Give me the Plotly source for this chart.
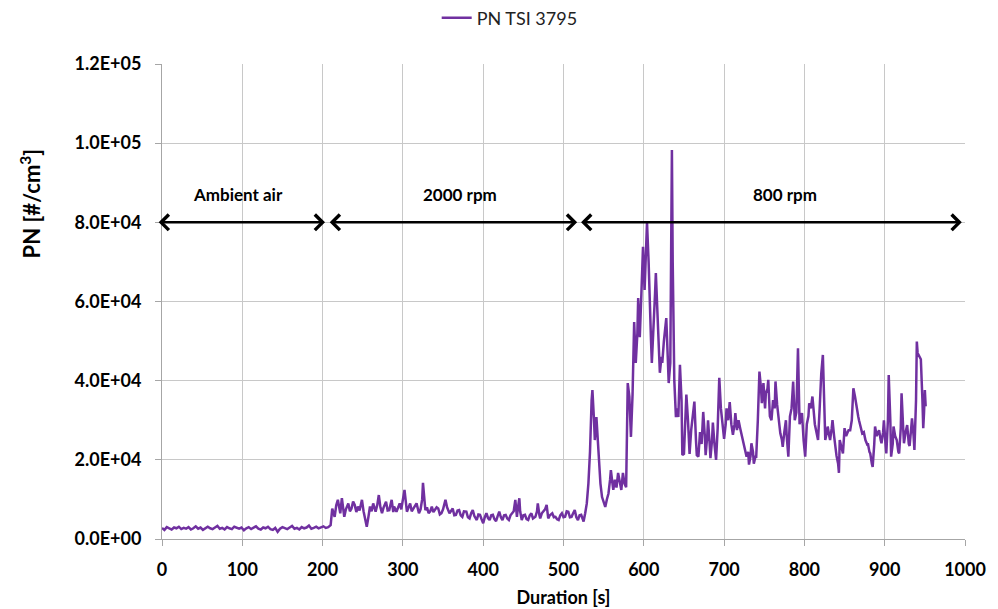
import plotly.graph_objects as go

# ---- data ----
t_ambient = list(range(0, 210, 3))
pn_ambient = [2800, 2300, 3000, 2600, 2400, 2900, 2700, 3100, 2500, 2800,
              2600, 3000, 2400, 2700, 3200, 2600, 2900, 2300, 2800, 3100,
              2700, 2500, 2900, 3300, 2600, 2800, 2400, 3000, 2700, 2500,
              3100, 2800, 2600, 2900, 2200, 2700, 3000, 2500, 2800, 3200,
              2600, 2400, 2900, 2700, 3100, 2500, 2300, 2800, 1800, 2600,
              3000, 2700, 2500, 2900, 3300, 2600, 2800, 2400, 3000, 2700,
              2900, 3400, 2600, 2800, 3100, 2700, 2900, 3200, 2800, 3000]

t_engine = [210, 212, 215, 217, 219, 222, 224, 227, 229, 232, 234, 236, 238, 240, 242, 244, 246, 249, 251, 253,
            255, 257, 259, 261, 263, 266, 268, 270, 272, 274, 276, 279, 281, 283, 286, 288, 289, 292, 294, 296,
            298, 300, 302, 305, 307, 309, 311, 313, 315, 317, 320, 322, 324, 325, 327, 328, 330, 332, 334, 336,
            338, 340, 342, 344, 346, 348, 350, 353, 355, 358, 360, 362, 364, 366, 368, 370, 372, 374, 376, 379,
            381, 383, 385, 387, 389, 392, 394, 396, 398, 400, 402, 404, 406, 408, 410, 412, 414, 416, 418, 420,
            422, 424, 426, 428, 430, 432, 434, 436, 438, 440, 441, 442, 443, 445, 446, 448, 450, 452, 454, 456,
            458, 460, 462, 465, 467, 468, 470, 471, 473, 475, 477, 479, 481, 483, 486, 488, 490, 492, 494, 496,
            498, 500, 502, 504, 506, 508, 510, 512, 514, 516, 518, 520, 522, 524, 525, 527, 529, 531, 533, 535,
            536, 538, 539, 541, 542, 544, 546, 548, 550, 552, 554, 556, 558, 559, 561, 562, 564, 566, 568, 570,
            572, 574, 576, 578, 579, 580, 582, 584, 586, 588, 590, 592, 593, 595, 597, 599, 601, 603, 604, 606,
            607, 609, 610, 612, 614, 615, 617, 618, 620, 622, 623, 625, 628, 630, 631, 633, 634, 635, 636, 637,
            638, 640, 642, 643, 645, 647, 648, 650, 651, 653, 655, 657, 659, 662, 663, 665, 666, 668, 670, 672,
            674, 676, 677, 679, 680, 682, 683, 685, 686, 688, 690, 692, 694, 696, 697, 699, 700, 702, 703, 705,
            707, 709, 711, 713, 714, 716, 718, 720, 722, 724, 726, 728, 730, 731, 733, 734, 736, 737, 739, 740,
            742, 744, 746, 747, 749, 751, 752, 754, 755, 757, 759, 761, 763, 764, 766, 767, 769, 770, 772, 773,
            775, 777, 778, 780, 782, 784, 786, 788, 790, 792, 794, 796, 797, 799, 801, 803, 805, 806, 808, 810,
            812, 813, 815, 817, 819, 821, 823, 825, 826, 828, 829, 831, 832, 834, 835, 837, 838, 840, 842, 843,
            844, 846, 848, 850, 852, 855, 857, 859, 861, 863, 865, 867, 868, 870, 872, 874, 876, 878, 879, 881,
            882, 884, 885, 887, 888, 890, 892, 893, 895, 896, 898, 899, 901, 902, 904, 905, 907, 908, 910, 911,
            913, 915, 917, 918, 920, 921, 923, 924, 926, 928, 930, 931, 933, 934, 936, 937, 939, 940, 941, 943,
            945, 947, 948, 949, 950, 951]
pn_engine = [3500, 7700, 5600, 8500, 9900, 6500, 10300, 5600, 7500, 9000, 7000, 7700, 9500, 8600, 6800, 8200, 7200, 9900, 7000, 4800,
             3100, 5500, 8200, 7000, 9000, 6900, 8500, 11100, 8000, 6500, 8000, 9400, 7200, 7300, 9900, 6800, 8200, 6900, 8000, 9000,
             7500, 9900, 12400, 6900, 8000, 9000, 7000, 7700, 8500, 9000, 6500, 7500, 10000, 14200, 9500, 7300, 8000, 6500, 7000, 8200,
             6800, 7300, 8000, 7700, 6200, 6500, 7500, 9900, 8000, 6500, 7000, 7700, 6000, 6100, 7200, 7300, 6000, 5600, 7000, 6900,
             5500, 5200, 6500, 7300, 5800, 4800, 6200, 6100, 5000, 4000, 5500, 6500, 5300, 4800, 6000, 6100, 5000, 4500, 5800, 6900,
             5500, 4800, 6000, 6100, 5200, 4800, 6000, 6500, 7000, 9900, 7500, 5600, 7500, 10300, 7000, 4800, 6000, 6100, 5000, 4800,
             6000, 6500, 5200, 5600, 7000, 9000, 6000, 5200, 6500, 6900, 7500, 8600, 5200, 6000, 6500, 5500, 5600, 5000, 4800, 6000,
             6500, 5500, 5600, 7000, 6900, 5500, 5600, 6500, 7300, 5500, 4800, 6000, 6100, 5000, 4400, 6500, 9000, 14000, 22000, 35000,
             37600, 30000, 25000, 30800, 27000, 19200, 14000, 10600, 9500, 8100, 10000, 11500, 15000, 17400, 14000, 12400, 15000, 13000, 16700, 14500,
             12400, 16700, 14000, 13100, 30000, 39400, 36000, 25800, 36500, 54800, 44500, 52000, 60900, 51000, 62000, 73800, 62900, 72000, 80000, 70000,
             61000, 50000, 44500, 52000, 62000, 67200, 58000, 52800, 42000, 46000, 44500, 50000, 55800, 45000, 39400, 44500, 70000, 98300, 70000, 44500,
             40000, 30800, 33000, 30800, 44000, 35000, 21200, 21500, 28000, 36500, 30000, 21500, 27500, 34300, 34700, 24800, 21200, 20800, 27000, 24000,
             32100, 26000, 21200, 26000, 30000, 24000, 20400, 25000, 29400, 24000, 20000, 28000, 40700, 33000, 31000, 27000, 25300, 29000, 33000, 30000,
             34600, 29000, 26300, 29000, 31800, 27500, 30000, 28000, 26000, 24200, 22000, 20800, 22000, 18800, 21000, 24200, 22000, 19000, 20800, 20800,
             30000, 42300, 38000, 34300, 39400, 33000, 36800, 38000, 40200, 31000, 30000, 35100, 33000, 39800, 34000, 31800, 28000, 26700, 25000, 23300,
             27000, 30000, 26000, 20800, 31000, 33000, 39800, 30000, 32000, 48200, 29000, 31000, 31800, 25000, 20800, 29000, 31000, 34300, 33000, 36000,
             32000, 29000, 27000, 25000, 33000, 41800, 46500, 30000, 25000, 27000, 28400, 26000, 25000, 28000, 30000, 26000, 24200, 21000, 19000, 16700,
             25000, 23000, 21600, 28000, 26000, 27500, 27500, 30000, 38100, 36000, 32900, 31000, 30000, 28000, 26700, 27000, 25000, 24000, 24200, 22000,
             21600, 19000, 18200, 24000, 28400, 26000, 27000, 27500, 25000, 24200, 27000, 30000, 24000, 21600, 30000, 41400, 30000, 20800, 24000, 28400,
             26000, 25000, 22000, 21600, 28000, 36800, 28000, 24200, 27000, 28800, 24000, 23500, 28000, 30500, 26000, 22500, 35000, 49900, 47000, 46100,
             45400, 35000, 28000, 32000, 37600, 33500]

duration = t_ambient + t_engine
pn = pn_ambient + pn_engine

y_tick_vals = [0, 20000, 40000, 60000, 80000, 100000, 120000]
y_tick_text = ["0.0E+00", "2.0E+04", "4.0E+04", "6.0E+04", "8.0E+04", "1.0E+05", "1.2E+05"]
x_tick_vals = [0, 100, 200, 300, 400, 500, 600, 700, 800, 900, 1000]

phase_labels = ["Ambient air", "2000 rpm", "800 rpm"]
phase_start = [-6, 207, 520]
phase_end = [203, 517, 996]
phase_label_x = [95, 371, 776]
arrow_level = 80000
label_level = 87000

FONT = "Lato, 'Open Sans', sans-serif"
PURPLE = "#7030A0"

fig = go.Figure()
fig.add_trace(go.Scatter(x=duration, y=pn, mode="lines", name="PN TSI 3795",
                         line=dict(color=PURPLE, width=2.5)))

for s, e, lab, lx in zip(phase_start, phase_end, phase_labels, phase_label_x):
    fig.add_annotation(x=e, y=arrow_level, ax=s, ay=arrow_level, xref="x", yref="y",
                       axref="x", ayref="y", text=" ", showarrow=True,
                       arrowhead=4, startarrowhead=4, arrowside="end+start",
                       arrowsize=1.2, startarrowsize=1.2, arrowwidth=2.5,
                       arrowcolor="black", standoff=0, startstandoff=0,
                       font=dict(size=1))
    fig.add_annotation(x=lx, y=label_level, xref="x", yref="y", text="<b>%s</b>" % lab,
                       showarrow=False, font=dict(family=FONT, size=17, color="black"))

# y-axis title (placed above centre, as in the original)
fig.add_annotation(x=-0.164, y=0.707, xref="paper", yref="paper",
                   text="<b>PN [#/cm<sup>3</sup>]</b>", textangle=-90, showarrow=False,
                   xanchor="center", yanchor="middle",
                   font=dict(family=FONT, size=22, color="black"))

fig.update_layout(
    width=998, height=609,
    margin=dict(l=154, r=41, t=56, b=78, autoexpand=False),
    paper_bgcolor="white", plot_bgcolor="white",
    font=dict(family=FONT, color="black"),
    showlegend=True,
    legend=dict(orientation="h", x=0.433, xanchor="center", y=1.097, yanchor="middle",
                xref="paper", yref="paper",
                font=dict(family=FONT, size=18, color="#222222")),
    xaxis=dict(range=[0, 1000], tickvals=x_tick_vals, showgrid=True, gridcolor="#C8C8C8",
               gridwidth=1, showline=True, linecolor="#A6A6A6", linewidth=1,
               ticks="outside", ticklen=6, tickcolor="#A6A6A6", zeroline=False,
               ticklabelstandoff=8, automargin=False,
               tickfont=dict(family=FONT, size=18, color="black", weight="bold"),
               title=dict(text="<b>Duration [s]</b>", font=dict(family=FONT, size=18), standoff=12)),
    yaxis=dict(range=[0, 120000], tickvals=y_tick_vals, ticktext=y_tick_text, showgrid=True,
               gridcolor="#C8C8C8", gridwidth=1, showline=True, linecolor="#A6A6A6", linewidth=1,
               ticks="outside", ticklen=6, tickcolor="#A6A6A6", zeroline=False,
               ticklabelstandoff=10, automargin=False,
               tickfont=dict(family=FONT, size=18, color="black", weight="bold")),
)

fig.write_html("out.html")
